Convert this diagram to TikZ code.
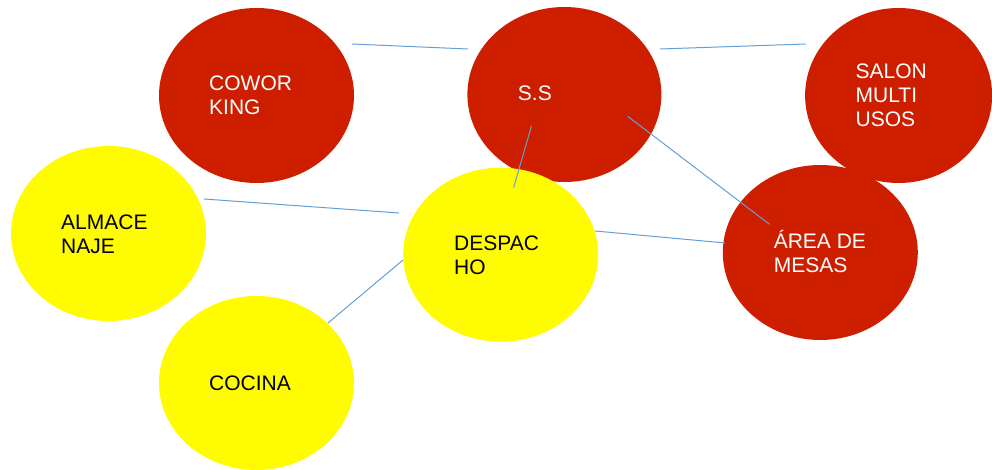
\documentclass[tikz,border=0pt]{standalone}
\usepackage{fontspec}
\setmainfont{Liberation Sans}
\usetikzlibrary{shapes.geometric}
\definecolor{bubred}{RGB}{205,31,0}
\definecolor{bubyellow}{RGB}{255,251,0}
\definecolor{linkblue}{RGB}{100,160,215}
\tikzset{
  bubble/.style={ellipse, draw=none, inner sep=0pt, minimum width=195pt, minimum height=175pt},
  redbub/.style={bubble, fill=bubred},
  yelbub/.style={bubble, fill=bubyellow},
  lbl/.style={anchor=base west, inner sep=0pt, align=left, font=\fontsize{21}{24.3}\selectfont},
  wlbl/.style={lbl, text=white},
  blbl/.style={lbl, text=black},
  link/.style={draw=linkblue, line width=1pt}
}
\begin{document}
\begin{tikzpicture}[x=1pt,y=-1pt]
\useasboundingbox[fill=white] (0,0) rectangle (992,470);
% bubbles
\node[redbub] (cow) at (256.5,95.5) {};
\node[redbub, minimum width=194pt] (ss) at (564.4,94.5) {};
\node[redbub, minimum width=187pt] (salon) at (898.6,95.5) {};
\node[yelbub] (alm) at (108.5,233.5) {};
\node[yelbub, minimum height=174pt] (desp) at (500.7,254.7) {};
\node[redbub] (area) at (820.3,252.5) {};
\node[yelbub, minimum height=174pt] (coc) at (256.5,383) {};
% labels (anchored at the baseline of the last line)
\node[wlbl] (tcow) at (209,114.5) {COWOR\\KING};
\node[wlbl] (tss) at (517.7,101) {S.S};
\node[wlbl] (tsalon) at (855.5,127) {SALON\\MULTI\\USOS};
\node[blbl] (talm) at (61,253.5) {ALMACE\\NAJE};
\node[blbl] (tdesp) at (454,274.5) {DESPAC\\HO};
\node[wlbl] (tarea) at (773.6,272.3) {ÁREA DE\\MESAS};
\node[blbl] (tcoc) at (209,390) {COCINA};
% connector ends
\coordinate (c1a) at (352,44);    \coordinate (c1b) at (468,49);
\coordinate (c2a) at (659.8,49);  \coordinate (c2b) at (805.7,44);
\coordinate (c3a) at (531.5,126); \coordinate (c3b) at (513.6,187.7);
\coordinate (c4a) at (627.7,116.3); \coordinate (c4b) at (769.5,224.3);
\coordinate (c5a) at (204,199);   \coordinate (c5b) at (399,213);
\coordinate (c6a) at (595.2,231); \coordinate (c6b) at (725.4,243);
\coordinate (c7a) at (403,260);   \coordinate (c7b) at (328,323);
% connectors
\draw[link] (c1a) -- (c1b);
\draw[link] (c2a) -- (c2b);
\draw[link] (c3a) -- (c3b);
\draw[link] (c4a) -- (c4b);
\draw[link] (c5a) -- (c5b);
\draw[link] (c6a) -- (c6b);
\draw[link] (c7a) -- (c7b);
\end{tikzpicture}
\end{document}
